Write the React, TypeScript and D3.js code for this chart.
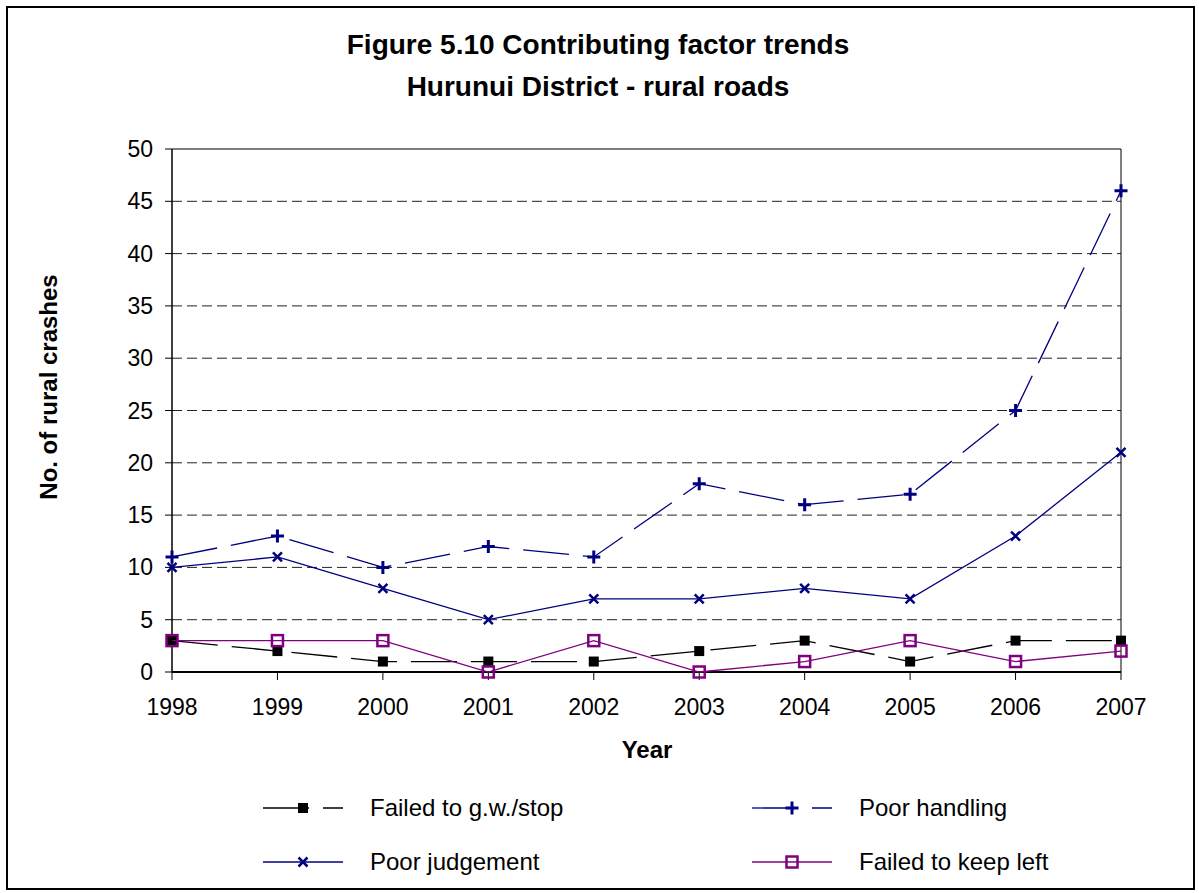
import React from "react";
import * as d3 from "d3";

const years = ["1998","1999","2000","2001","2002","2003","2004","2005","2006","2007"];
const failedGW = [3,2,1,1,1,2,3,1,3,3];
const poorHandling = [11,13,10,12,11,18,16,17,25,46];
const poorJudgement = [10,11,8,5,7,7,8,7,13,21];
const failedKeepLeft = [3,3,3,0,3,0,1,3,1,2];
const yTicks = [0,5,10,15,20,25,30,35,40,45,50];

const W = 1199, H = 893;
const x0 = 172, x1 = 1121, yTop = 149, yBot = 672;
const FONT = "'Liberation Sans', Arial, sans-serif";
const DASH = "46,14";

type Series = { name: string; values: number[]; color: string; dash?: string; marker: string };
const series: Series[] = [
  { name: "Failed to g.w./stop", values: failedGW, color: "#000000", dash: DASH, marker: "sq" },
  { name: "Poor handling", values: poorHandling, color: "#000080", dash: DASH, marker: "plus" },
  { name: "Poor judgement", values: poorJudgement, color: "#000080", marker: "x" },
  { name: "Failed to keep left", values: failedKeepLeft, color: "#800080", marker: "hsq" },
];

function Marker({ type, cx, cy, color }: { type: string; cx: number; cy: number; color: string }) {
  if (type === "sq") return <rect x={cx - 5} y={cy - 5} width={10} height={10} fill={color} />;
  if (type === "hsq") return <rect x={cx - 5.5} y={cy - 5.5} width={11} height={11} fill="none" stroke={color} strokeWidth={2.5} />;
  if (type === "plus") return <path d={`M${cx - 6.5},${cy}H${cx + 6.5}M${cx},${cy - 6.5}V${cy + 6.5}`} stroke={color} strokeWidth={3} />;
  return <path d={`M${cx - 4.5},${cy - 4.5}L${cx + 4.5},${cy + 4.5}M${cx + 4.5},${cy - 4.5}L${cx - 4.5},${cy + 4.5}`} stroke={color} strokeWidth={2.5} />;
}

export default function App() {
  const x = d3.scalePoint<string>().domain(years).range([x0, x1]);
  const y = d3.scaleLinear().domain([0, 50]).range([yBot, yTop]);
  const line = d3.line<number>().x((_, i) => x(years[i])!).y((d) => y(d));

  const legendPos = [
    { lx: 263, ly: 808 },
    { lx: 752, ly: 808 },
    { lx: 263, ly: 862 },
    { lx: 752, ly: 862 },
  ];

  return (
    <svg width={W} height={H} style={{ position: "absolute", left: 0, top: 0, fontFamily: FONT }}>
      <rect x={0} y={0} width={W} height={H} fill="#fff" />
      <rect x={7} y={7} width={1187} height={882} fill="none" stroke="#000" strokeWidth={2} />
      <text x={598} y={54} textAnchor="middle" fontSize={28} fontWeight="bold">Figure 5.10 Contributing factor trends</text>
      <text x={598} y={96} textAnchor="middle" fontSize={28} fontWeight="bold">Hurunui District - rural roads</text>

      {/* gridlines */}
      {yTicks.filter((t) => t > 0 && t < 50).map((t) => (
        <line key={t} x1={x0} x2={x1} y1={y(t)} y2={y(t)} stroke="#222" strokeWidth={1}
          strokeDasharray="10,5" />
      ))}
      <line x1={x0} x2={x1} y1={yTop} y2={yTop} stroke="#000" strokeWidth={1} />
      <line x1={x1} x2={x1} y1={yTop} y2={yBot} stroke="#000" strokeWidth={1} />

      {/* axes */}
      <line x1={x0} x2={x0} y1={yTop} y2={yBot} stroke="#000" strokeWidth={1.5} />
      <line x1={x0} x2={x1} y1={yBot} y2={yBot} stroke="#000" strokeWidth={2} />
      {yTicks.map((t) => (
        <g key={t}>
          <line x1={x0 - 7} x2={x0} y1={y(t)} y2={y(t)} stroke="#000" />
          <text x={153} y={y(t)} dy="0.35em" textAnchor="end" fontSize={23}>{t}</text>
        </g>
      ))}
      {years.map((yr) => (
        <g key={yr}>
          <line x1={x(yr)} x2={x(yr)} y1={yBot} y2={yBot + 8} stroke="#000" />
          <text x={x(yr)} y={715} textAnchor="middle" fontSize={23}>{yr}</text>
        </g>
      ))}
      <text x={647} y={758} textAnchor="middle" fontSize={24} fontWeight="bold">Year</text>
      <text transform={`translate(57,387) rotate(-90)`} textAnchor="middle" fontSize={24} fontWeight="bold">No. of rural crashes</text>

      {/* series */}
      {series.map((s) => (
        <g key={s.name}>
          <path d={line(s.values)!} fill="none" stroke={s.color} strokeWidth={1.3} strokeDasharray={s.dash} />
          {s.values.map((v, i) => (
            <Marker key={i} type={s.marker} cx={x(years[i])!} cy={y(v)} color={s.color} />
          ))}
        </g>
      ))}

      {/* legend */}
      {series.map((s, i) => {
        const { lx, ly } = legendPos[i];
        return (
          <g key={s.name}>
            <line x1={lx} x2={lx + 80} y1={ly} y2={ly} stroke={s.color} strokeWidth={1.3} strokeDasharray={s.dash} />
            <Marker type={s.marker} cx={lx + 40} cy={ly} color={s.color} />
            <text x={lx + 107} y={ly} dy="0.35em" fontSize={24}>{s.name}</text>
          </g>
        );
      })}
    </svg>
  );
}
